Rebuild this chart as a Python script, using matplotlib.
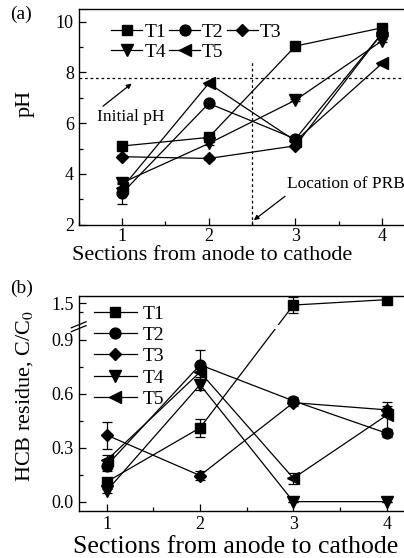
import numpy as np
import matplotlib
matplotlib.use("Agg")
import matplotlib.pyplot as plt
from matplotlib.patches import Rectangle
from matplotlib.ticker import FixedLocator, FixedFormatter, MultipleLocator

plt.rcParams['font.family'] = ['Liberation Serif', 'DejaVu Serif']
plt.rcParams['mathtext.fontset'] = 'stix'

# ---------------- data ----------------
sections = [1, 2, 3, 4]
series_names = ["T1", "T2", "T3", "T4", "T5"]
markers = ["s", "o", "D", "v", "<"]

ph_T1 = [5.10, 5.44, 9.04, 9.76]
ph_T2 = [3.24, 6.78, 5.38, 9.55]
ph_T3 = [4.68, 4.61, 5.11, 9.55]
ph_T4 = [3.65, 5.20, 6.91, 9.25]
ph_T5 = [3.45, 7.57, 5.30, 8.36]
ph_T1_err = [0.05, 0.05, 0.05, 0.05]
ph_T2_err = [0.42, 0.05, 0.05, 0.05]
ph_T3_err = [0.05, 0.05, 0.05, 0.05]
ph_T4_err = [0.05, 0.05, 0.05, 0.05]
ph_T5_err = [0.05, 0.05, 0.05, 0.05]

hcb_T1 = [0.11, 0.41, 1.49, 1.52]
hcb_T2 = [0.20, 0.76, 0.56, 0.38]
hcb_T3 = [0.37, 0.145, 0.55, 0.51]
hcb_T4 = [0.06, 0.65, 0.00, 0.00]
hcb_T5 = [0.23, 0.72, 0.13, 0.48]
hcb_T1_err = [0.02, 0.05, 0.045, 0.01]
hcb_T2_err = [0.03, 0.085, 0.02, 0.02]
hcb_T3_err = [0.075, 0.025, 0.02, 0.02]
hcb_T4_err = [0.01, 0.03, 0.0, 0.0]
hcb_T5_err = [0.03, 0.03, 0.03, 0.075]

ph_yticks = [2, 4, 6, 8, 10]
hcb_yticks = [0.0, 0.3, 0.6, 0.9, 1.5]
hcb_yticklabels = ["0.0", "0.3", "0.6", "0.9", "1.5"]
initial_ph = 7.8
prb_location = 2.5

ph_data = [ph_T1, ph_T2, ph_T3, ph_T4, ph_T5]
ph_err = [ph_T1_err, ph_T2_err, ph_T3_err, ph_T4_err, ph_T5_err]
hcb_data = [hcb_T1, hcb_T2, hcb_T3, hcb_T4, hcb_T5]
hcb_err = [hcb_T1_err, hcb_T2_err, hcb_T3_err, hcb_T4_err, hcb_T5_err]

msizes = {"s": 6.8, "o": 7.8, "D": 6.2, "v": 8.2, "<": 8.2}

# ---------------- figure ----------------
W, H = 404, 558
fig = plt.figure(figsize=(W / 100, H / 100), dpi=100)

def px_axes(left, top, right, bottom):
    return [left / W, 1 - bottom / H, (right - left) / W, (bottom - top) / H]

ax_a = fig.add_axes(px_axes(78.7, 9, 425.5, 224.7))
ax_b = fig.add_axes(px_axes(78.7, 295.7, 414.7, 511))

TICK_FS = 13

def style_axes(ax, xpad=3.5):
    for s in ax.spines.values():
        s.set_linewidth(1.0)
    ax.tick_params(which='both', direction='in', top=False, right=False,
                   labelsize=TICK_FS, width=0.9)
    ax.tick_params(which='major', length=5)
    ax.tick_params(which='minor', length=3)
    ax.tick_params(axis='x', which='major', pad=xpad)

# ---------------- panel (a) ----------------
handles = []
for name, m, y, e in zip(series_names, markers, ph_data, ph_err):
    h = ax_a.errorbar(sections, y, yerr=e, marker=m, ms=msizes[m], color='k',
                      lw=0.9, capsize=3.5, elinewidth=0.9, capthick=0.9, label=name)
    handles.append(h[0])

ax_a.axhline(initial_ph, color='k', lw=0.9, ls=(0, (2.2, 2.2)))
ax_a.plot([prb_location, prb_location], [2, 8.5], color='k', lw=0.9, ls=(0, (2.2, 2.2)))

ax_a.text(0.71, 6.25, "Initial pH", fontsize=12.5, va='center', ha='left')
ax_a.annotate("", xy=(1.11, 7.56), xytext=(0.78, 6.67),
              arrowprops=dict(arrowstyle='-|>', lw=0.9, color='k', mutation_scale=7,
                              shrinkA=0, shrinkB=0))
ax_a.text(2.9, 3.6, "Location of PRB", fontsize=12.5, va='center', ha='left')
ax_a.annotate("", xy=(2.52, 2.18), xytext=(2.88, 3.12),
              arrowprops=dict(arrowstyle='-|>', lw=0.9, color='k', mutation_scale=7,
                              shrinkA=0, shrinkB=0))

ax_a.set_xlim(0.5, 4.5)
ax_a.set_ylim(2, 10.5)
ax_a.set_xticks(sections)
ax_a.xaxis.set_minor_locator(MultipleLocator(0.5))
ax_a.set_yticks(ph_yticks)
ax_a.yaxis.set_minor_locator(MultipleLocator(1))
style_axes(ax_a, xpad=2.5)
ax_a.set_ylabel("pH", fontsize=16)
ax_a.yaxis.set_label_coords(-0.126, 0.564)

order = [0, 3, 1, 4, 2]
ax_a.legend([handles[i] for i in order], [series_names[i] for i in order],
            ncol=3, loc='upper left', bbox_to_anchor=(0.055, 0.995),
            frameon=False, fontsize=14, handlelength=1.6, handletextpad=0.1,
            columnspacing=0.15, labelspacing=0.12, borderpad=0.2)

fig.text(212 / W, 1 - 256 / H, "Sections from anode to cathode", fontsize=16,
         ha='center', va='center')
fig.text(21 / W, 1 - 14 / H, "(a)", fontsize=14, ha='center', va='center')

# ---------------- panel (b) ----------------
B1, B2, EPS = 0.972, 1.37, 0.001
G = B1 + (B2 - B1) * EPS

def fwd(y):
    y = np.asarray(y, dtype=float)
    return np.where(y <= B1, y, np.where(y >= B2, y - B2 + G, B1 + (y - B1) * EPS))

def inv(u):
    u = np.asarray(u, dtype=float)
    return np.where(u <= B1, u, np.where(u >= G, u - G + B2, B1 + (u - B1) / EPS))

ax_b.set_yscale('function', functions=(fwd, inv))

handles_b = []
for name, m, y, e in zip(series_names, markers, hcb_data, hcb_err):
    h = ax_b.errorbar(sections, y, yerr=e, marker=m, ms=msizes[m], color='k',
                      lw=0.9, capsize=3.5, elinewidth=0.9, capthick=0.9, label=name)
    handles_b.append(h[0])

ax_b.set_xlim(0.7, 4.3)
ax_b.set_ylim(-0.052, 1.542)
ax_b.set_xticks(sections)
ax_b.xaxis.set_minor_locator(MultipleLocator(0.5))
ax_b.yaxis.set_major_locator(FixedLocator(hcb_yticks))
ax_b.yaxis.set_major_formatter(FixedFormatter(hcb_yticklabels))
ax_b.yaxis.set_minor_locator(FixedLocator([0.15, 0.45, 0.75, 1.45]))
style_axes(ax_b)

# axis break: gap band and slashes
ybrk = (fwd(B1) + 0.052) / (fwd(1.542) + 0.052)
ax_b.add_patch(Rectangle((0.0, ybrk - 0.010), 1.0, 0.020, transform=ax_b.transAxes,
                         facecolor='white', edgecolor='none', zorder=2.2))
dx, dy = 0.022, 0.014
for off in (-0.009, 0.009):
    ax_b.plot([-dx, dx], [ybrk + off - dy, ybrk + off + dy], transform=ax_b.transAxes,
              color='k', lw=0.9, clip_on=False, zorder=3)

ax_b.set_ylabel("HCB residue, C/C$_0$", fontsize=16)
ax_b.yaxis.set_label_coords(-0.130, 0.534)

ax_b.legend(handles_b, series_names, loc='upper left', bbox_to_anchor=(0.005, 1.02),
            frameon=False, fontsize=14, handlelength=2.2, handletextpad=0.3,
            labelspacing=0.19, borderpad=0.2)

fig.text(236 / W, 1 - 547 / H, "Sections from anode to cathode", fontsize=18.5,
         ha='center', va='center')
fig.text(22 / W, 1 - 288 / H, "(b)", fontsize=14, ha='center', va='center')

fig.savefig("out.png", dpi=100)
